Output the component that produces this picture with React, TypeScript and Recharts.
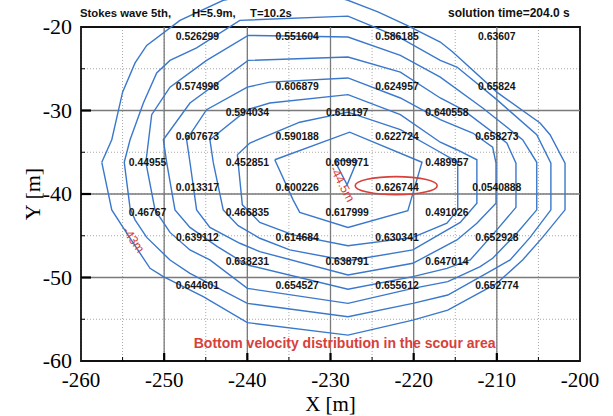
import {
  ComposedChart,
  Line,
  Scatter,
  XAxis,
  YAxis,
  CartesianGrid,
  ReferenceLine,
  ReferenceArea,
} from 'recharts';

// axis ticks (grid every 5 m, labels every 10 m)
const xTicks = [-260, -255, -250, -245, -240, -235, -230, -225, -220, -215, -210, -205, -200];
const yTicks = [-60, -55, -50, -45, -40, -35, -30, -25, -20];
const xMajor = [-250, -240, -230, -220, -210];
const yMajor = [-50, -40, -30];

// contour lines, innermost first, as [x, y] in metres
const c1: [number, number][] = [
  [-229.5, -36.0], [-226.8, -36.0], [-228.0, -38.9], [-229.5, -36.0],
];
const c2: [number, number][] = [
  [-236.7, -35.9], [-234.5, -40.7], [-233.7, -42.2], [-227.9, -44.0], [-220.7, -42.0],
  [-219.0, -36.2], [-227.7, -32.6], [-236.7, -35.9],
];
const c3: [number, number][] = [
  [-241.2, -35.3], [-240.6, -41.3], [-238.5, -43.4], [-234.5, -44.9], [-227.9, -46.2],
  [-220.1, -45.2], [-216.0, -43.5], [-214.7, -41.9], [-214.7, -36.2], [-216.8, -35.0],
  [-221.6, -32.3], [-227.9, -30.2], [-233.7, -31.4], [-239.7, -33.9], [-241.2, -35.3],
];
const c4: [number, number][] = [
  [-244.1, -36.2], [-242.9, -41.9], [-241.1, -43.8], [-238.5, -45.3], [-234.9, -46.7],
  [-227.9, -48.0], [-220.1, -46.7], [-214.4, -43.4], [-212.4, -41.1], [-212.4, -35.9],
  [-214.8, -34.7], [-216.8, -33.8], [-221.6, -30.5], [-227.9, -28.1], [-237.3, -29.1],
  [-240.0, -29.9], [-244.5, -33.5], [-244.1, -36.2],
];
const c5: [number, number][] = [
  [-246.9, -36.2], [-246.1, -41.9], [-244.5, -44.0], [-240.9, -45.9], [-238.5, -46.9],
  [-227.9, -49.7], [-220.1, -48.3], [-214.8, -45.5], [-212.4, -43.5], [-210.1, -41.1],
  [-210.1, -36.3], [-210.5, -34.4], [-212.9, -32.7], [-216.8, -31.1], [-221.6, -28.5],
  [-227.9, -26.1], [-237.3, -26.6], [-240.0, -27.2], [-244.9, -29.9], [-247.3, -33.5],
  [-246.9, -36.2],
];
const c6: [number, number][] = [
  [-249.7, -36.2], [-248.7, -41.9], [-246.9, -44.0], [-243.6, -46.3], [-240.0, -48.5],
  [-227.9, -51.4], [-220.1, -49.9], [-216.0, -48.9], [-213.2, -47.9], [-210.0, -44.3],
  [-207.7, -41.6], [-207.7, -36.3], [-208.8, -33.9], [-214.1, -29.9], [-216.8, -28.5],
  [-221.6, -25.4], [-227.9, -23.6], [-239.9, -24.0], [-246.9, -29.1], [-250.1, -33.5],
  [-249.7, -36.2],
];
const c7: [number, number][] = [
  [-252.2, -36.2], [-251.1, -41.9], [-249.3, -44.6], [-246.9, -46.7], [-244.5, -47.9],
  [-240.0, -51.3], [-227.9, -53.1], [-220.1, -51.3], [-215.9, -50.5], [-212.0, -48.7],
  [-210.5, -47.7], [-207.6, -44.7], [-205.2, -41.9], [-205.2, -36.2], [-206.9, -33.5],
  [-211.7, -29.7], [-216.8, -26.0], [-221.6, -23.4], [-227.9, -21.2], [-239.9, -21.0],
  [-244.9, -24.0], [-249.3, -27.2], [-251.5, -30.5], [-252.2, -36.2],
];
const c8: [number, number][] = [
  [-254.8, -36.2], [-254.1, -41.7], [-253.5, -43.1], [-252.1, -45.2], [-249.3, -47.9],
  [-246.9, -49.5], [-240.0, -53.1], [-227.9, -54.7], [-220.1, -53.1], [-215.9, -52.1],
  [-210.5, -49.1], [-208.4, -47.9], [-206.0, -45.2], [-203.5, -41.9], [-203.5, -36.3],
  [-205.2, -32.9], [-210.0, -28.7], [-214.8, -24.8], [-216.8, -24.0], [-221.6, -21.3],
  [-227.9, -18.7], [-240.9, -19.2], [-246.1, -22.5], [-249.3, -24.0], [-250.9, -25.5],
  [-252.5, -29.1], [-254.1, -33.5], [-254.8, -36.2],
];
const c9: [number, number][] = [
  [-257.5, -36.2], [-256.3, -41.9], [-254.5, -44.7], [-251.7, -48.9], [-250.1, -49.9],
  [-245.3, -52.3], [-240.0, -55.4], [-227.9, -56.9], [-220.1, -55.1], [-215.9, -53.9],
  [-210.0, -50.7], [-206.9, -47.9], [-204.5, -45.2], [-201.8, -41.9], [-201.8, -36.3],
  [-203.6, -32.9], [-204.8, -31.5], [-210.0, -27.8], [-215.3, -23.0], [-216.8, -21.8],
  [-220.8, -19.8], [-224.3, -18.2], [-227.9, -16.8], [-230.1, -16.2], [-239.7, -16.2],
  [-242.9, -16.8], [-248.1, -19.2], [-252.1, -22.2], [-253.5, -24.3], [-255.0, -27.8],
  [-256.3, -33.5], [-257.5, -36.2],
];
const contours = [c1, c2, c3, c4, c5, c6, c7, c8, c9];

// velocity values printed on the map
const labelX = [
  -246, -234, -222, -210,
  -246, -234, -222, -210,
  -240, -228, -216,
  -246, -234, -222, -210,
  -252, -240, -228, -216,
  -246, -234, -222, -210,
  -252, -240, -228, -216,
  -246, -234, -222, -210,
  -240, -228, -216,
  -246, -234, -222, -210,
];
const labelY = [
  -21.1, -21.1, -21.1, -21.1,
  -27.1, -27.1, -27.1, -27.1,
  -30.2, -30.2, -30.2,
  -33.1, -33.1, -33.1, -33.1,
  -36.2, -36.2, -36.2, -36.2,
  -39.2, -39.2, -39.2, -39.2,
  -42.2, -42.2, -42.2, -42.2,
  -45.2, -45.2, -45.2, -45.2,
  -48.1, -48.1, -48.1,
  -51.0, -51.0, -51.0, -51.0,
];
const labelText = [
  '0.526299', '0.551604', '0.586185', '0.63607',
  '0.574998', '0.606879', '0.624957', '0.65824',
  '0.594034', '0.611197', '0.640558',
  '0.607673', '0.590188', '0.622724', '0.658273',
  '0.44955', '0.452851', '0.609971', '0.489957',
  '0.013317', '0.600226', '0.626744', '0.0540888',
  '0.46767', '0.466835', '0.617999', '0.491026',
  '0.639112', '0.614684', '0.630341', '0.652928',
  '0.638231', '0.638791', '0.647014',
  '0.644601', '0.654527', '0.655612', '0.652774',
];

// red annotations
const noteX = [-228.6, -253.7];
const noteY = [-38.8, -45.5];
const noteText = ['-44.5m', '-43m'];
const noteAngle = [62, 55];
const markX = [-222.1];
const markY = [-39.0];
const captionX = [-228.3];
const captionY = [-57.8];
const captionText = ['Bottom velocity distribution in the scour area'];

const BLUE = '#3a78cc';
const RED = '#d8403a';
const PLOT_LEFT = 81;
const PLOT_BOTTOM = 361;
const SERIF = "'Liberation Serif', 'Times New Roman', serif";
const SANS = "'Liberation Sans', Arial, sans-serif";

const labels = labelX.map((x, i) => ({ x, y: labelY[i], text: labelText[i] }));
const notes = noteX.map((x, i) => ({ x, y: noteY[i], text: noteText[i], angle: noteAngle[i] }));
const marks = markX.map((x, i) => ({ x, y: markY[i] }));
const captions = captionX.map((x, i) => ({ x, y: captionY[i], text: captionText[i] }));

const XTick = (props: any) => {
  const { x, payload } = props;
  const major = payload.value % 10 === 0;
  const inner = payload.value !== -260 && payload.value !== -200;
  return (
    <g>
      {inner && (
        <line x1={x} x2={x} y1={PLOT_BOTTOM} y2={PLOT_BOTTOM - (major ? 8 : 4)}
          stroke="#000" strokeWidth={major ? 2.2 : 1} />
      )}
      {major && (
        <text x={x} y={PLOT_BOTTOM + 26} textAnchor="middle" fontFamily={SERIF} fontSize={21} fill="#000">
          {payload.value}
        </text>
      )}
    </g>
  );
};

const YTick = (props: any) => {
  const { y, payload } = props;
  const major = payload.value % 10 === 0;
  const inner = payload.value !== -60 && payload.value !== -20;
  return (
    <g>
      {inner && (
        <line x1={PLOT_LEFT} x2={PLOT_LEFT + (major ? 10 : 4)} y1={y} y2={y}
          stroke="#000" strokeWidth={major ? 2.2 : 1} />
      )}
      {major && (
        <text x={PLOT_LEFT - 9} y={y + 7} textAnchor="end" fontFamily={SERIF} fontSize={22} fill="#000">
          {payload.value}
        </text>
      )}
    </g>
  );
};

const titleStyle = (left: number, size: number): React.CSSProperties => ({
  position: 'absolute',
  left,
  top: 6,
  font: `bold ${size}px ${SANS}`,
  whiteSpace: 'pre',
  color: '#111',
  lineHeight: '14px',
});

export default function App() {
  return (
    <div style={{ position: 'absolute', left: 0, top: 0, width: 613, height: 416, background: '#fff' }}>
      <style>{'.contour, .contour * { clip-path: none !important; }'}</style>
      <ComposedChart width={613} height={416} margin={{ top: 27, right: 33, left: 0, bottom: 0 }}>
        <CartesianGrid stroke="#a8a8a8" strokeDasharray="1 2" strokeWidth={1} />
        <XAxis type="number" dataKey="x" domain={[-260, -200]} ticks={xTicks} allowDataOverflow
          height={55} axisLine={false} tickLine={false} tickSize={0} tickMargin={0} tick={<XTick />}
          label={{ value: 'X [m]', position: 'center', dy: 15, fontFamily: SERIF, fontSize: 21, fill: '#000' }} />
        <YAxis type="number" dataKey="y" domain={[-60, -20]} ticks={yTicks} allowDataOverflow
          width={81} axisLine={false} tickLine={false} tickSize={0} tickMargin={0} tick={<YTick />}
          label={{ value: 'Y [m]', position: 'center', angle: -90, dx: -8, fontFamily: SERIF, fontSize: 22, fill: '#000' }} />
        {xMajor.map((v) => (
          <ReferenceLine key={'vx' + v} x={v} stroke="#7a7a7a" strokeWidth={1.3} />
        ))}
        {yMajor.map((v) => (
          <ReferenceLine key={'hy' + v} y={v} stroke="#7a7a7a" strokeWidth={1.3} />
        ))}
        <ReferenceArea x1={-260} x2={-200} y1={-60} y2={-20} fill="none" fillOpacity={0}
          stroke="#111" strokeWidth={1.8} />
        {contours.map((c, i) => (
          <Line key={'c' + i} className="contour" data={c.map(([x, y]) => ({ x, y }))} dataKey="y"
            type="linear" stroke={BLUE} strokeWidth={1.4} dot={false} activeDot={false}
            isAnimationActive={false} />
        ))}
        <Scatter data={labels} dataKey="y" isAnimationActive={false}
          shape={(p: any) => (
            <text x={p.cx} y={p.cy + 3.6} textAnchor="middle" fontFamily={SANS}
              fontWeight="bold" fontSize={10.4} fill="#151515">
              {p.payload.text}
            </text>
          )} />
        <Scatter data={marks} dataKey="y" isAnimationActive={false}
          shape={(p: any) => (
            <ellipse cx={p.cx} cy={p.cy} rx={41} ry={9} fill="none" stroke={RED} strokeWidth={1.6} />
          )} />
        <Scatter data={notes} dataKey="y" isAnimationActive={false}
          shape={(p: any) => (
            <text x={p.cx} y={p.cy} textAnchor="middle" dominantBaseline="central"
              transform={`rotate(${p.payload.angle} ${p.cx} ${p.cy})`}
              fontFamily={SANS} fontSize={12.5} fill={RED}>
              {p.payload.text}
            </text>
          )} />
        <Scatter data={captions} dataKey="y" isAnimationActive={false}
          shape={(p: any) => (
            <text x={p.cx} y={p.cy} textAnchor="middle" dominantBaseline="central"
              fontFamily={SANS} fontWeight="bold" fontSize={14} fill={RED}>
              {p.payload.text}
            </text>
          )} />
      </ComposedChart>
      <div style={titleStyle(80, 11.3)}>{'Stokes wave 5th,'}</div>
      <div style={titleStyle(192, 11.3)}>{'H=5.9m,'}</div>
      <div style={titleStyle(250, 11.3)}>{'T=10.2s'}</div>
      <div style={titleStyle(448, 12)}>{'solution time=204.0 s'}</div>
    </div>
  );
}
